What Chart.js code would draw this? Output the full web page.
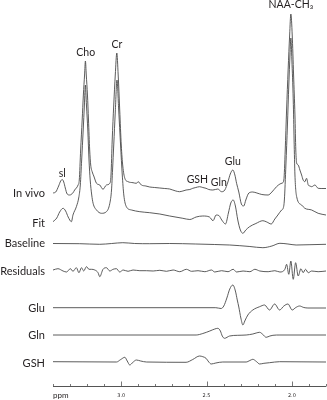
<!DOCTYPE html>
<html>
<head>
<meta charset="utf-8">
<script src="https://cdn.jsdelivr.net/npm/chart.js@4.4.1/dist/chart.umd.min.js"></script>
<style>
  html, body { margin: 0; padding: 0; background: #ffffff; }
  canvas { display: block; }
</style>
</head>
<body>
<canvas id="c" width="327" height="400"></canvas>
<script>
// ---------- DATA (chemical shift in ppm, intensity in arbitrary units above each trace's baseline) ----------
const traceNames = ['In vivo', 'Fit', 'Baseline', 'Residuals', 'Glu', 'Gln', 'GSH'];

const inVivoPpm = [3.400,3.384,3.367,3.355,3.346,3.337,3.328,3.317,3.302,3.284,3.273,3.253,3.246,3.238,3.229,3.222,3.215,3.210,3.205,3.198,3.192,3.185,3.179,3.170,3.161,3.145,3.126,3.107,3.087,3.067,3.060,3.053,3.044,3.035,3.026,3.018,3.009,3.000,2.991,2.979,2.960,2.931,2.911,2.901,2.882,2.856,2.833,2.804,2.774,2.745,2.716,2.698,2.680,2.659,2.639,2.620,2.598,2.581,2.563,2.541,2.522,2.503,2.487,2.463,2.434,2.412,2.393,2.375,2.361,2.346,2.334,2.324,2.311,2.296,2.282,2.270,2.252,2.229,2.205,2.176,2.139,2.117,2.090,2.070,2.056,2.047,2.039,2.031,2.022,2.013,2.006,1.998,1.990,1.982,1.977,1.972,1.963,1.953,1.943,1.934,1.924,1.914,1.904,1.894,1.884,1.865,1.846,1.824,1.800];
const inVivoVal = [-1,0,6,11,12.5,10,4,-2,-3,-1,2,7,12,42,72,97,117,131,117,97,72,42,27,20,16,8.7,7,2.7,7,8.7,17,52,87,117,139,117,82,47,26,13.7,10.3,9.3,8.7,10.3,7,6,5,4.5,4,3.5,3,2,1,0.3,1,2,2.5,3.7,4.5,5.3,4.5,3.7,2.5,2,3,0.3,2,10,18,22,17,8.7,0,-12,-14,-8,-1,0,-1,-2.5,-3,0,5.3,8,9,12,42,82,122,157,178,157,117,77,42,29,27,22,17,12,10.3,13.7,7,6,5.3,7,3.7,3.5,3.5];

const fitPpm = [3.400,3.378,3.361,3.341,3.326,3.311,3.292,3.283,3.263,3.248,3.240,3.232,3.223,3.216,3.210,3.204,3.196,3.189,3.182,3.173,3.165,3.145,3.116,3.087,3.067,3.057,3.051,3.044,3.035,3.025,3.015,3.004,2.994,2.985,2.970,2.940,2.891,2.833,2.774,2.716,2.639,2.598,2.561,2.522,2.483,2.462,2.444,2.428,2.411,2.389,2.372,2.358,2.344,2.331,2.317,2.302,2.287,2.270,2.248,2.211,2.170,2.147,2.121,2.100,2.082,2.060,2.051,2.044,2.035,2.026,2.018,2.011,2.006,2.000,1.992,1.987,1.982,1.972,1.943,1.924,1.884,1.846,1.800];
const fitVal = [-1.7,2,8,11.7,9,3,-1.7,5,13.3,23.3,35,60,90,115,135,115,90,60,40,25,16.7,10,6.7,8.3,16.7,30,50,75,108,140,110,75,45,25,13.3,10,8.3,7.3,6,4,1.7,0.5,3,4,3,-0.7,5,4.5,0,-4,7,17,20,14,0,-10,-13.3,-10,-6.7,-3.5,-0.7,-2,-4,1,5,10,11.7,20,55,95,135,165,182,160,120,80,45,23.3,15,11.7,10,6.7,5];

const baselinePpm = [3.400,3.243,3.126,3.056,2.991,2.921,2.833,2.716,2.563,2.452,2.364,2.246,2.170,2.117,2.070,2.023,1.975,1.894,1.800];
const baselineVal = [0.5,0.3,-0.3,0.5,1.3,0.5,0.3,0.5,0,-0.5,-1,-2.5,-3.7,-2,0.7,0,-1,-0.7,-0.3];

const residualsPpm = [3.400,3.371,3.341,3.321,3.298,3.283,3.263,3.248,3.233,3.220,3.204,3.189,3.175,3.155,3.136,3.126,3.107,3.087,3.067,3.048,3.028,3.009,2.989,2.960,2.931,2.891,2.852,2.813,2.774,2.735,2.696,2.657,2.618,2.588,2.550,2.510,2.471,2.452,2.412,2.374,2.344,2.324,2.286,2.246,2.217,2.188,2.139,2.100,2.070,2.041,2.031,2.018,2.006,1.992,1.978,1.963,1.947,1.934,1.920,1.904,1.884,1.846,1.800];
const residualsVal = [1,2.3,0,-1,2.3,-0.3,3.3,-1.7,3.3,0,4.3,1.7,1.7,1,-1.7,-5.7,1.7,3.3,0,1.7,2.3,-1,1,-0.3,1,0.3,0.3,0,0.7,-0.3,1,-0.7,1.7,-0.3,0.3,-0.7,1,-1,0.3,-0.7,1.7,-1,0,-0.7,1.7,0,-0.7,0.3,-1,1.7,6.7,-3.3,10,-8.3,8.3,-5,2.3,-1.7,1.7,-1.7,0,-0.7,0];

const gluPpm = [3.400,2.446,2.415,2.399,2.381,2.364,2.346,2.331,2.320,2.311,2.299,2.287,2.276,2.258,2.229,2.189,2.160,2.131,2.101,2.072,2.047,2.023,1.998,1.977,1.955,1.930,1.906,1.800];
const gluVal = [0.3,0.3,-0.5,2,10,19,23,17,8,1,-10,-17,-13,-7,-2,1.3,3,-2,4,-2,2,4,-2,0.5,2,0.5,0,0];

const glnPpm = [3.400,2.561,2.522,2.481,2.452,2.434,2.419,2.408,2.395,2.365,2.317,2.268,2.229,2.209,2.189,2.170,2.151,2.129,2.111,2.070,1.800];
const glnVal = [0,0,1.5,4,6,6.7,4,-1,-3.3,-1,-0.3,0,1,2,2.7,0.5,-2.3,-1,-0.3,0,0];

const gshPpm = [3.400,3.028,3.003,2.979,2.965,2.950,2.933,2.911,2.886,2.852,2.620,2.581,2.541,2.522,2.503,2.487,2.473,2.446,2.405,2.268,2.246,2.229,2.208,2.189,2.164,2.131,2.072,1.800];
const gshVal = [0.3,0,2.5,4.7,1,-3,-0.5,2,1,0,-0.3,2.5,6,5.3,3.7,0,-2,-1,0,0,1.5,2.7,0.5,-2,-1.3,-0.7,0.3,0];

// x-axis ticks (ppm)
const minorTicks = [3.4,3.3,3.2,3.1,3.0,2.9,2.8,2.7,2.6,2.5,2.4,2.3,2.2,2.1,2.0,1.9,1.8];
const majorTicks = [3.0, 2.5, 2.0];
const majorTickLabels = ['3.0', '2.5', '2.0'];

// peak annotations
const peakNames = ['sl', 'Cho', 'Cr', 'NAA-CH₃', 'Glu', 'GSH', 'Gln'];
const peakPpm   = [3.346, 3.208, 3.026, 2.006, 2.346, 2.554, 2.428];

// ---------- LAYOUT ----------
const traceOffsets = [194, 166, 142, 115, 78, 51, 24];   // vertical stacking of the traces
const labelDy = [1, 3, -0.5, 0, 0, 0, 1];
const peakLabelY = [212, 333, 341, 381, 224, 206, 203.5]; // y-scale units
const lineColor = '#4a4a4a';
const textColor = '#231f20';

const seriesPpm = [inVivoPpm, fitPpm, baselinePpm, residualsPpm, gluPpm, glnPpm, gshPpm];
const seriesVal = [inVivoVal, fitVal, baselineVal, residualsVal, gluVal, glnVal, gshVal];

const datasets = traceNames.map((name, i) => ({
  label: name,
  data: seriesPpm[i].map((p, k) => ({ x: p, y: seriesVal[i][k] + traceOffsets[i] })),
  borderColor: lineColor,
  borderWidth: 0.9,
  pointRadius: 0,
  fill: false,
  cubicInterpolationMode: 'monotone'
}));

const decor = {
  id: 'decor',
  afterDraw(chart) {
    const ctx = chart.ctx;
    const xs = chart.scales.x, ys = chart.scales.y;
    const area = chart.chartArea;
    ctx.save();
    // axis
    const ay = Math.round(area.bottom) + 0.5;
    ctx.strokeStyle = '#555';
    ctx.lineWidth = 1;
    ctx.beginPath();
    ctx.moveTo(xs.getPixelForValue(3.4), ay);
    ctx.lineTo(xs.getPixelForValue(1.8), ay);
    ctx.stroke();
    ctx.lineWidth = 0.8;
    minorTicks.forEach(t => {
      const px = Math.round(xs.getPixelForValue(t)) + 0.5;
      const major = majorTicks.some(m => Math.abs(m - t) < 1e-6);
      ctx.beginPath();
      ctx.moveTo(px, ay);
      ctx.lineTo(px, ay - (major ? 5 : 2.5));
      ctx.stroke();
    });
    ctx.fillStyle = textColor;
    ctx.textBaseline = 'middle';
    ctx.textAlign = 'center';
    ctx.font = '5px "DejaVu Sans"';
    majorTicks.forEach((t, i) => {
      ctx.fillText(majorTickLabels[i], xs.getPixelForValue(t), ay + 9.5);
    });
    ctx.textAlign = 'left';
    ctx.font = '8px Lato';
    ctx.fillText('ppm', xs.getPixelForValue(3.4), ay + 9);

    // trace labels
    ctx.font = '11px Lato';
    ctx.textAlign = 'right';
    traceNames.forEach((n, i) => {
      ctx.fillText(n, 45, ys.getPixelForValue(traceOffsets[i]) + labelDy[i]);
    });

    // peak labels
    ctx.font = '10.5px Lato';
    ctx.textAlign = 'center';
    peakNames.forEach((n, i) => {
      ctx.fillText(n, xs.getPixelForValue(peakPpm[i]), ys.getPixelForValue(peakLabelY[i]));
    });
    ctx.restore();
  }
};

new Chart(document.getElementById('c'), {
  type: 'line',
  data: { datasets },
  options: {
    responsive: false,
    animation: false,
    devicePixelRatio: 1,
    layout: { padding: { left: 53, right: 1, top: 0, bottom: 14 } },
    plugins: { legend: { display: false }, tooltip: { enabled: false } },
    scales: {
      x: { type: 'linear', min: 1.8, max: 3.4, reverse: true, display: false },
      y: { type: 'linear', min: 0, max: 386, display: false }
    }
  },
  plugins: [decor]
});
</script>
</body>
</html>
